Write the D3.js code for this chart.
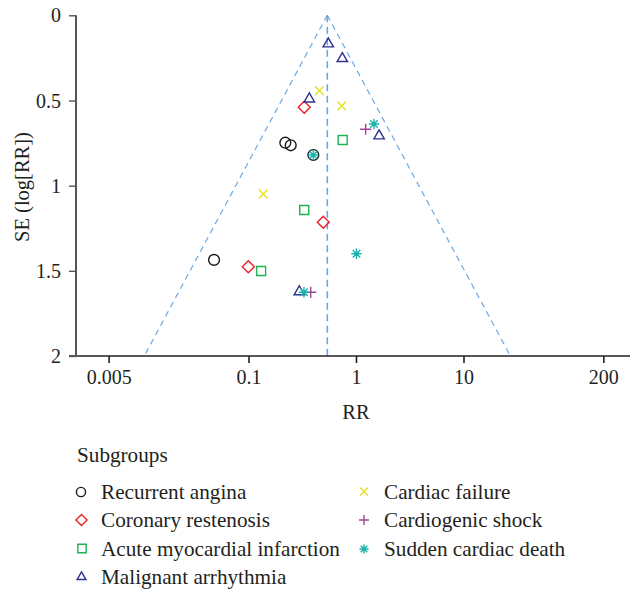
<!DOCTYPE html>
<html>
<head>
<meta charset="utf-8">
<script src="https://cdn.jsdelivr.net/npm/d3@7"></script>
<style>
  html, body { margin: 0; padding: 0; background: #fff; }
  svg { display: block; }
  text { font-family: "Liberation Serif", "DejaVu Serif", serif; fill: #231f20; }
</style>
</head>
<body>
<svg id="chart" width="630" height="590"></svg>
<script>
// ---------------- data ----------------
const subgroups = ["Recurrent angina", "Coronary restenosis", "Acute myocardial infarction",
  "Malignant arrhythmia", "Cardiac failure", "Cardiogenic shock", "Sudden cardiac death"];
const subgroupColors = ["#1a1a1a", "#ec1f26", "#1db251", "#2e3192", "#e3e31c", "#a4449b", "#17b3ad"];
const subgroupSymbols = ["circle", "diamond", "square", "triangle", "times", "plus", "asterisk"];

// [RR, SE] pairs for each subgroup
const recurrentAngina = [[0.220, 0.748], [0.247, 0.763], [0.401, 0.820], [0.0478, 1.436]];
const coronaryRestenosis = [[0.330, 0.540], [0.496, 1.215], [0.0996, 1.476]];
const acuteMI = [[0.752, 0.732], [0.330, 1.143], [0.131, 1.501]];
const malignantArrhythmia = [[0.552, 0.168], [0.746, 0.254], [0.368, 0.491], [1.64, 0.708], [0.297, 1.623]];
const cardiacFailure = [[0.456, 0.443], [0.736, 0.532], [0.137, 1.049]];
const cardiogenicShock = [[1.23, 0.669], [0.379, 1.626]];
const suddenCardiacDeath = [[1.47, 0.638], [0.401, 0.820], [1.01, 1.400], [0.328, 1.626]];
const seriesValues = [recurrentAngina, coronaryRestenosis, acuteMI, malignantArrhythmia,
  cardiacFailure, cardiogenicShock, suddenCardiacDeath];

const pooledRR = 0.541;
const xTicks = [0.005, 0.1, 1, 10, 200];
const xTickLabels = ["0.005", "0.1", "1", "10", "200"];
const yTicks = [0, 0.5, 1, 1.5, 2];
const yTickLabels = ["0", "0.5", "1", "1.5", "2"];
const xTitle = "RR";
const yTitle = "SE (log[RR])";
const legendTitle = "Subgroups";

// ---------------- layout ----------------
const svg = d3.select("#chart");
const pL = 76, pR = 630, pT = 15.3, pB = 356;
const x = d3.scaleLog().domain([Math.pow(10, (pL - 356) / 107.5), Math.pow(10, (pR - 356) / 107.5)]).range([pL, pR]);
const y = d3.scaleLinear().domain([0, 2]).range([pT, pB]);

// symbol path generators (r = half-size)
function symPath(type, r) {
  const p = d3.path();
  switch (type) {
    case "circle": p.arc(0, 0, r, 0, 2 * Math.PI); break;
    case "diamond": p.moveTo(0, -r); p.lineTo(r, 0); p.lineTo(0, r); p.lineTo(-r, 0); p.closePath(); break;
    case "square": p.rect(-r, -r, 2 * r, 2 * r); break;
    case "triangle": {
      const h = r * Math.sqrt(3);
      p.moveTo(0, -h * 2 / 3); p.lineTo(r, h / 3); p.lineTo(-r, h / 3); p.closePath(); break;
    }
    case "times": p.moveTo(-r, -r); p.lineTo(r, r); p.moveTo(r, -r); p.lineTo(-r, r); break;
    case "plus": p.moveTo(-r, 0); p.lineTo(r, 0); p.moveTo(0, -r); p.lineTo(0, r); break;
    case "asterisk": {
      const d = r * 0.72;
      p.moveTo(-r, 0); p.lineTo(r, 0); p.moveTo(0, -r); p.lineTo(0, r);
      p.moveTo(-d, -d); p.lineTo(d, d); p.moveTo(d, -d); p.lineTo(-d, d); break;
    }
  }
  return p.toString();
}
const plotSize = {circle: 5.4, diamond: 6.0, square: 4.5, triangle: 5.2, times: 4.4, plus: 5.6, asterisk: 5.2};
const legSize = {circle: 4.6, diamond: 5.6, square: 4.2, triangle: 4.4, times: 4.0, plus: 5.0, asterisk: 4.6};

// ---------------- funnel lines ----------------
const funnelColor = "#69a6e2";
const seMax = 2;
const halfWidth = se => 1.96 * se / Math.LN10;
const lp = Math.log10(pooledRR);
const funnel = [
  [[pooledRR, 0], [Math.pow(10, lp - halfWidth(seMax)), seMax]],
  [[pooledRR, 0], [Math.pow(10, lp + halfWidth(seMax)), seMax]]
];
const lineGen = d3.line().x(d => x(d[0])).y(d => y(d[1]));
svg.append("g").selectAll("path").data(funnel).join("path")
  .attr("d", lineGen).attr("fill", "none").attr("stroke", funnelColor)
  .attr("stroke-width", 1.2).attr("stroke-dasharray", "6,4.5");
svg.append("path").attr("d", lineGen([[pooledRR, 0], [pooledRR, seMax]]))
  .attr("fill", "none").attr("stroke", funnelColor).attr("stroke-width", 1.6)
  .attr("stroke-dasharray", "7,4.5");

// ---------------- axes ----------------
const xAxis = d3.axisBottom(x).tickValues(xTicks).tickFormat((d, i) => xTickLabels[i]).tickSize(7).tickSizeOuter(0);
const gx = svg.append("g").attr("transform", `translate(0,${pB})`).call(xAxis);
gx.select(".domain").remove();
gx.append("line").attr("x1", 69).attr("x2", 630).attr("y1", 0).attr("y2", 0).attr("stroke", "#231f20").attr("stroke-width", 1.6);
gx.selectAll(".tick line").attr("stroke", "#231f20").attr("stroke-width", 1.6);
gx.selectAll(".tick text").attr("y", 14).attr("dy", "0.71em").style("font-size", "20px").attr("fill", "#231f20")
  .style("font-family", '"Liberation Serif", serif');

const yAxis = d3.axisLeft(y).tickValues(yTicks).tickFormat((d, i) => yTickLabels[i]).tickSize(7).tickSizeOuter(0);
const gy = svg.append("g").attr("transform", `translate(${pL},0)`).call(yAxis);
gy.select(".domain").remove();
gy.append("line").attr("x1", 0).attr("x2", 0).attr("y1", pT).attr("y2", pB).attr("stroke", "#555").attr("stroke-width", 2);
gy.selectAll(".tick line").attr("stroke", "#555").attr("stroke-width", 1.4);
gy.selectAll(".tick text").attr("x", -15).attr("dy", "0.33em").style("font-size", "20px").attr("fill", "#231f20")
  .style("font-family", '"Liberation Serif", serif');

svg.append("text").attr("x", 356).attr("y", 419).attr("text-anchor", "middle").style("font-size", "20.5px").text(xTitle);
svg.append("text").attr("transform", "translate(29,187) rotate(-90)").attr("text-anchor", "middle")
  .style("font-size", "20.5px").text(yTitle);

// ---------------- points ----------------
const pts = svg.append("g");
seriesValues.forEach((vals, i) => {
  const sym = subgroupSymbols[i];
  pts.append("g").selectAll("path").data(vals).join("path")
    .attr("transform", d => `translate(${x(d[0])},${y(d[1])})`)
    .attr("d", symPath(sym, plotSize[sym]))
    .attr("fill", "none").attr("stroke", subgroupColors[i]).attr("stroke-width", 1.4);
});

// ---------------- legend ----------------
svg.append("text").attr("x", 77).attr("y", 462).style("font-size", "21.2px").text(legendTitle);
const legPos = [[81, 492, 101, 498.5], [81.5, 520, 101, 527], [82, 548.5, 101, 555.5], [81.5, 577, 101, 584],
  [364, 491.5, 384, 498.5], [364, 520, 384, 527], [364, 549, 384, 555.5]];
subgroups.forEach((name, i) => {
  const sym = subgroupSymbols[i];
  const [mx, my, tx, ty] = legPos[i];
  svg.append("path").attr("transform", `translate(${mx},${my})`).attr("d", symPath(sym, legSize[sym]))
    .attr("fill", "none").attr("stroke", subgroupColors[i]).attr("stroke-width", 1.4);
  svg.append("text").attr("x", tx).attr("y", ty).style("font-size", "21.2px").text(name);
});
</script>
</body>
</html>
